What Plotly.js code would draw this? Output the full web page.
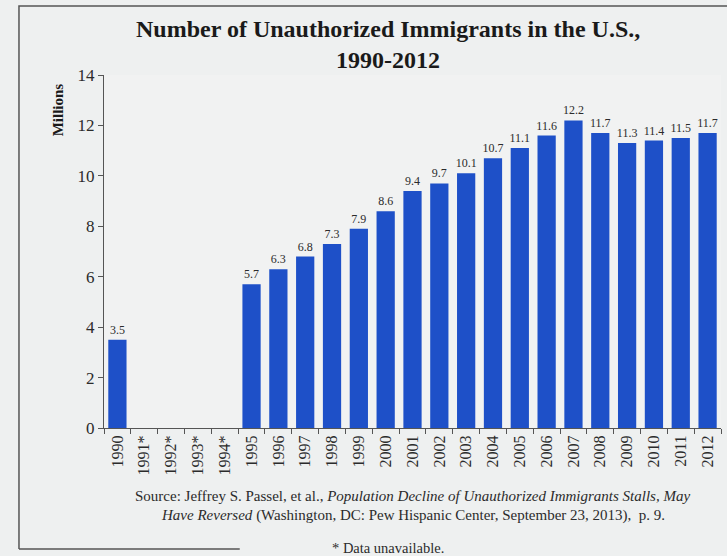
<!DOCTYPE html>
<html>
<head>
<meta charset="utf-8">
<script src="https://cdn.plot.ly/plotly-3.0.1.min.js"></script>
<style>html,body{margin:0;padding:0;background:#eef0f0;}</style>
</head>
<body>
<div id="chart" style="width:727px;height:556px;"></div>
<script>
const years = ["1990","1991*","1992*","1993*","1994*","1995","1996","1997","1998","1999","2000","2001","2002","2003","2004","2005","2006","2007","2008","2009","2010","2011","2012"];
const millions = [3.5,null,null,null,null,5.7,6.3,6.8,7.3,7.9,8.6,9.4,9.7,10.1,10.7,11.1,11.6,12.2,11.7,11.3,11.4,11.5,11.7];
const yTicks = [0,2,4,6,8,10,12,14];
const titleText = "Number of Unauthorized Immigrants in the U.S.,<br>1990-2012";
const sourceLine1 = "Source: Jeffrey S. Passel, et al., <i>Population Decline of Unauthorized Immigrants Stalls, May</i>";
const sourceLine2 = "<i>Have Reversed</i> (Washington, DC: Pew Hispanic Center, September 23, 2013),  p. 9.";
const footnote = "* Data unavailable.";

const serif = "Liberation Serif, Times New Roman, serif";
const ink = "#2b2b2b";

const trace = {
  type: "bar",
  x: years,
  y: millions,
  marker: {color: "#1e50c8"},
  width: 0.68,
  text: millions.map(v => v === null ? "" : v.toFixed(1)),
  textposition: "outside",
  constraintext: "none",
  textfont: {family: serif, size: 12, color: ink},
  cliponaxis: false,
  hoverinfo: "x+y"
};

const layout = {
  width: 727, height: 556,
  paper_bgcolor: "#eef0f0",
  plot_bgcolor: "#f1f2f2",
  margin: {l: 104, r: 6, t: 75, b: 128},
  showlegend: false,
  bargap: 0.3,
  uniformtext: {mode: false},
  xaxis: {
    type: "category",
    range: [-0.5, 22.5],
    showline: true, linecolor: "#555", linewidth: 1,
    ticks: "outside", tickson: "boundaries", ticklen: 5, tickcolor: "#555",
    tickangle: -90,
    tickfont: {family: serif, size: 16, color: ink},
    showgrid: false, zeroline: false
  },
  yaxis: {
    range: [0, 14],
    tickvals: yTicks,
    showline: true, linecolor: "#555", linewidth: 1,
    ticks: "outside", ticklen: 5, tickcolor: "#555",
    tickfont: {family: serif, size: 17, color: ink},
    showgrid: false, zeroline: false
  },
  annotations: [
    {text: "<b>" + titleText + "</b>", xref: "paper", yref: "paper", x: 0.46, y: 1.0, yshift: 31,
     xanchor: "center", yanchor: "middle", showarrow: false,
     font: {family: serif, size: 24, color: "#1a1a1a"}},
    {text: "<b>Millions</b>", xref: "paper", yref: "paper", x: 0, xshift: -46, y: 0.9,
     textangle: -90, showarrow: false, xanchor: "center", yanchor: "middle",
     font: {family: serif, size: 15, color: "#1a1a1a"}},
    {text: sourceLine1, xref: "paper", yref: "paper", x: 0.5, y: 0, yshift: -68,
     showarrow: false, xanchor: "center", yanchor: "middle",
     font: {family: serif, size: 15, color: ink}},
    {text: sourceLine2, xref: "paper", yref: "paper", x: 0.5, y: 0, yshift: -87,
     showarrow: false, xanchor: "center", yanchor: "middle",
     font: {family: serif, size: 15, color: ink}},
    {text: footnote, xref: "paper", yref: "paper", x: 0.46, y: 0, yshift: -120,
     showarrow: false, xanchor: "center", yanchor: "middle",
     font: {family: serif, size: 14.5, color: ink}}
  ],
  shapes: [
    {type: "path", xref: "paper", yref: "paper", layer: "below",
     path: "M -0.1378,-0.3428 L -0.1378,1.1955 L 1.05,1.1955",
     line: {color: "#555", width: 1.5}},
    {type: "line", xref: "paper", yref: "paper", layer: "below",
     x0: -0.1378, x1: 0.22, y0: -0.3428, y1: -0.3428,
     line: {color: "#555", width: 1.5}}
  ]
};

Plotly.newPlot("chart", [trace], layout, {displayModeBar: false, staticPlot: true});
</script>
</body>
</html>
